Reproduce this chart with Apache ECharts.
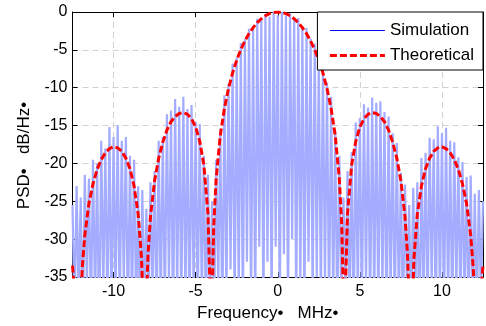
<!DOCTYPE html>
<html><head><meta charset="utf-8">
<script src="https://cdn.jsdelivr.net/npm/echarts@6/dist/echarts.min.js"></script>
<style>html,body{margin:0;padding:0;background:#fff}#c{width:486px;height:326px}</style>
</head><body><div id="c"></div><script>
// ---- data ----
const xTickValues = [-10, -5, 0, 5, 10];
const xRange = [-12.5, 12.5];
const yRange = [-35, 0];
const yStep = 5;

// Theoretical PSD curve (dB/Hz) vs frequency (MHz)
const theoFreq = [
  -12.5, -12.25, -12.15, -12.0, -11.9, -11.75, -11.5, -11.25, -11, -10.75, -10.5, -10.25, -10,
  -9.75, -9.5, -9.25, -9, -8.75, -8.5, -8.3, -8.2, -8.1, -8.0, -7.9, -7.75,
  -7.5, -7.25, -7, -6.75, -6.5, -6.25, -6, -5.75, -5.5, -5.25, -5, -4.75, -4.5, -4.25,
  -4.1, -4.05, -4.0, -3.9, -3.75, -3.5, -3.25, -3, -2.75, -2.5, -2.25, -2,
  -1.75, -1.5, -1.25, -1, -0.75, -0.5, -0.25, 0,
  0.25, 0.5, 0.75, 1, 1.25, 1.5, 1.75, 2, 2.25, 2.5, 2.75, 3, 3.25, 3.5, 3.75, 3.9, 4.0, 4.05, 4.1,
  4.25, 4.5, 4.75, 5, 5.25, 5.5, 5.75, 6, 6.25, 6.5, 6.75, 7, 7.25, 7.5,
  7.75, 7.9, 8.0, 8.1, 8.2, 8.3, 8.5, 8.75, 9, 9.25, 9.5, 9.75,
  10, 10.25, 10.5, 10.75, 11, 11.25, 11.5, 11.75, 11.9, 12.0, 12.15, 12.25, 12.5
];
const theoPsd = [
  -33.5, -40, -60, -38.1, -33.6, -29.5, -25.3, -22.7, -20.8, -19.5, -18.6, -18.05, -17.8,
  -17.95, -18.4, -19.3, -20.7, -23.0, -26.7, -32.4, -38.3, -60, -38.1, -32.0, -27.0,
  -22.3, -19.3, -17.2, -15.6, -14.5, -13.8, -13.4, -13.3, -13.5, -14.1, -15.2, -17.1, -20.2, -26.6,
  -38.3, -60, -38.1, -28.3, -22.0, -16.3, -12.75, -10.1, -8.04, -6.36, -4.97, -3.82,
  -2.85, -2.06, -1.41, -0.89, -0.49, -0.22, -0.06, 0,
  -0.06, -0.22, -0.49, -0.89, -1.41, -2.06, -2.85, -3.82, -4.97, -6.36, -8.04, -10.1, -12.75, -16.3, -22.0, -28.3, -38.1, -60, -38.3,
  -26.6, -20.2, -17.1, -15.2, -14.1, -13.5, -13.3, -13.4, -13.8, -14.5, -15.6, -17.2, -19.3, -22.3,
  -27.0, -32.0, -38.1, -60, -38.3, -32.4, -26.7, -23.0, -20.7, -19.3, -18.4, -17.95,
  -17.8, -18.05, -18.6, -19.5, -20.8, -22.7, -25.3, -29.5, -33.6, -38.1, -60, -40, -33.5
];

// Simulated PSD: spike tops on a 0.25 MHz grid starting at -12.5 MHz,
// and the troughs halfway between them
const simStartFreq = -12.5;
const simSpacing = 0.25;
const simPeaks = [
  -25.5, -23, -24.5, -21.5, -22, -19.5, -20, -17, -18, -15.2,
  -16.5, -15, -17, -16.5, -19, -19.5, -23, -23.5, -26, -22.5,
  -21, -17, -16.5, -13.5, -13, -11.5, -12.5, -11.2, -12.8, -12.3,
  -14.5, -14.8, -19, -21.5, -25, -19.5, -15.5, -11, -9.5, -6.8,
  -6, -4.1, -3.6, -2.2, -2.0, -0.9, -1.1, -0.3, -0.6, 0,
  -0.4,
  0, -0.5, -0.2, -0.9, -0.8, -1.9, -2.1, -3.5, -4.2, -5.9,
  -6.9, -9.3, -11.2, -15.8, -19, -24.5, -21, -18.5, -14.6, -14,
  -12.2, -12.6, -11.3, -12, -11.8, -13.2, -13.8, -16, -17.3, -21.2,
  -22.8, -25.5, -23.2, -22.5, -19.3, -18.6, -16.6, -16.8, -15.1, -16,
  -15.3, -17, -17.2, -19.2, -19.8, -21.8, -21.6, -24, -23.5, -25
];
const simTroughs = [
  -40, -38, -42, -36, -40, -39, -44, -37, -40, -41,
  -38, -40, -36, -42, -39, -40, -45, -38, -40, -37,
  -41, -39, -40, -36, -42, -38, -40, -39, -43, -37,
  -40, -38, -41, -39, -40, -36, -42, -38, -34, -40,
  -37, -40, -33, -39, -40, -31, -40, -33, -40, -31,
  -40, -32, -40, -30, -40, -36, -40, -33, -38, -35,
  -39, -36, -40, -38, -41, -39, -37, -40, -42, -38,
  -40, -36, -41, -39, -40, -37, -43, -38, -40, -39,
  -41, -37, -40, -38, -44, -39, -40, -36, -42, -38,
  -40, -39, -41, -37, -40, -38, -42, -39, -40, -38
];

// ---- build series data ----
const theoData = theoFreq.map((f, i) => [f, theoPsd[i]]);
const simData = [];
simPeaks.forEach((v, i) => {
  const f = simStartFreq + i * simSpacing;
  simData.push([f, v]);
  if (i < simTroughs.length) simData.push([f + simSpacing / 2, simTroughs[i]]);
});

const FONT = '"Liberation Sans", Arial, Helvetica, sans-serif';
const gridLine = { show: true, lineStyle: { color: '#d2d2d2', width: 1, type: [6, 4] } };
const axisLine = { show: true, onZero: false, lineStyle: { color: '#000', width: 1 } };

const chart = echarts.init(document.getElementById('c'), null, { renderer: 'canvas' });
chart.setOption({
  animation: false,
  backgroundColor: '#fff',
  textStyle: { fontFamily: FONT },
  grid: { left: 72.5, right: 3, top: 12, bottom: 49, containLabel: false, outerBoundsMode: 'none' },
  legend: {
    show: true, orient: 'vertical', right: 3, top: 12,
    itemWidth: 55, itemHeight: 14, itemGap: 8,
    padding: [10, 9, 6, 11],
    backgroundColor: '#fff', borderColor: '#000', borderWidth: 1, borderRadius: 0,
    textStyle: { fontSize: 17, color: '#000', fontFamily: FONT },
    itemStyle: { opacity: 0 },
    data: [
      { name: 'Simulation', itemStyle: { opacity: 0 }, lineStyle: { color: '#0000ff', width: 1, opacity: 1 } },
      { name: 'Theoretical', itemStyle: { opacity: 0 }, lineStyle: { color: '#ff0000', width: 3, type: [7, 3] } }
    ]
  },
  xAxis: [{
    type: 'value', min: xRange[0], max: xRange[1], position: 'bottom',
    axisLine: axisLine,
    axisTick: { show: true, inside: true, length: 5, customValues: xTickValues, lineStyle: { color: '#000' } },
    axisLabel: { show: true, customValues: xTickValues, color: '#000', fontSize: 16, margin: 7, fontFamily: FONT },
    splitLine: gridLine,
    name: 'Frequency\u2022   MHz\u2022', nameLocation: 'middle', nameGap: 28,
    nameTextStyle: { fontSize: 17, color: '#000', fontFamily: FONT, padding: [0, 20, 0, 0] }
  }, {
    type: 'value', min: xRange[0], max: xRange[1], position: 'top',
    axisLine: axisLine,
    axisTick: { show: true, inside: true, length: 5, customValues: xTickValues, lineStyle: { color: '#000' } },
    axisLabel: { show: false }, splitLine: { show: false }
  }],
  yAxis: [{
    type: 'value', min: yRange[0], max: yRange[1], interval: yStep, position: 'left',
    axisLine: axisLine,
    axisTick: { show: true, inside: true, length: 5, lineStyle: { color: '#000' } },
    axisLabel: { color: '#000', fontSize: 16, margin: 5, fontFamily: FONT },
    splitLine: gridLine,
    name: 'PSD\u2022   dB/Hz\u2022', nameLocation: 'middle', nameGap: 40, nameRotate: 90,
    nameTextStyle: { fontSize: 17, color: '#000', fontFamily: FONT, padding: [0, 22, 0, 0] }
  }, {
    type: 'value', min: yRange[0], max: yRange[1], interval: yStep, position: 'right',
    axisLine: axisLine,
    axisTick: { show: true, inside: true, length: 5, lineStyle: { color: '#000' } },
    axisLabel: { show: false }, splitLine: { show: false }
  }],
  series: [{
    name: 'Simulation', type: 'line', data: simData, xAxisIndex: 0, yAxisIndex: 0,
    symbol: 'none', showSymbol: false, clip: true, z: 2,
    lineStyle: { color: '#a4acff', width: 2.2 }, itemStyle: { color: '#0000ff' }
  }, {
    name: 'Theoretical', type: 'line', data: theoData, xAxisIndex: 0, yAxisIndex: 0,
    symbol: 'none', showSymbol: false, clip: true, z: 3,
    lineStyle: { color: '#ff0000', width: 3, type: [7, 3] }, itemStyle: { color: '#ff0000' }
  }]
});
</script></body></html>
